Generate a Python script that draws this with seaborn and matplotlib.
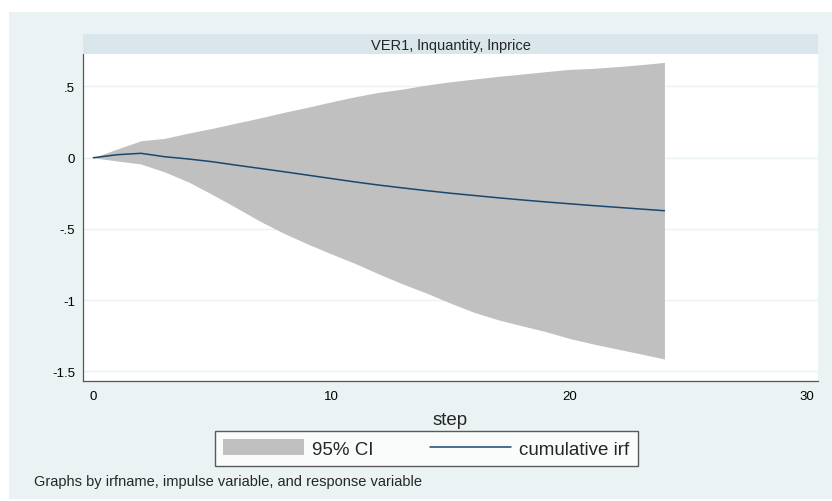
import matplotlib
matplotlib.use("Agg")
import matplotlib.pyplot as plt
import seaborn as sns
import pandas as pd
from matplotlib.patches import Rectangle, Patch
from matplotlib.lines import Line2D

sns.set_theme(style="white")
plt.rcParams['font.family'] = ['Liberation Sans', 'DejaVu Sans']

step = list(range(25))
irf = [0.0, 0.021, 0.031, 0.007, -0.009, -0.028, -0.052, -0.075, -0.098, -0.122,
       -0.146, -0.170, -0.192, -0.212, -0.231, -0.249, -0.265, -0.281, -0.296, -0.310,
       -0.323, -0.336, -0.348, -0.360, -0.372]
upper = [0.0, 0.061, 0.119, 0.136, 0.173, 0.206, 0.243, 0.279, 0.318, 0.354,
         0.392, 0.428, 0.459, 0.482, 0.510, 0.533, 0.552, 0.571, 0.587, 0.604,
         0.620, 0.627, 0.639, 0.653, 0.669]
lower = [0.0, -0.023, -0.044, -0.100, -0.170, -0.258, -0.350, -0.445, -0.530, -0.605,
         -0.675, -0.742, -0.816, -0.886, -0.950, -1.020, -1.085, -1.137, -1.179, -1.220,
         -1.268, -1.307, -1.342, -1.377, -1.413]
yticks = [0.5, 0, -0.5, -1, -1.5]
ytick_labels = [".5", "0", "-.5", "-1", "-1.5"]
xticks = [0, 10, 20, 30]
title = "VER1, lnquantity, lnprice"
xlabel = "step"
legend_labels = ["95% CI", "cumulative irf"]
note = "Graphs by irfname, impulse variable, and response variable"

df = pd.DataFrame({"step": step, "irf": irf, "upper": upper, "lower": lower})

BG = "#EAF2F3"
STRIP = "#D9E6EB"
GRAY = "#C0C0C0"
NAVY = "#1A476F"

fig = plt.figure(figsize=(8.32, 5.02), dpi=100)
fig.patch.set_facecolor("white")
# outer graph region
bg = Rectangle((9/832, 1-500/502), 1-9/832, (500-13)/502,
               transform=fig.transFigure, facecolor=BG, edgecolor="none", zorder=-10)
fig.add_artist(bg)

L, R = 83.3/832, 817.7/832
B, T = 1-381.7/502, 1-55/502
ax = fig.add_axes([L, B, R-L, T-B])
ax.set_facecolor("white")

ax.fill_between(df["step"], df["lower"], df["upper"], color=GRAY, linewidth=0, zorder=2)
sns.lineplot(data=df, x="step", y="irf", ax=ax, color=NAVY, linewidth=1.1, zorder=3)

ax.set_xlim(-0.42, 30.44)
ax.set_ylim(-1.565, 0.728)
ax.set_yticks(yticks)
ax.set_yticklabels(ytick_labels)
ax.set_xticks(xticks)
ax.set_xticklabels([str(v) for v in xticks])
for y in yticks:
    ax.axhline(y, color=BG, linewidth=1.0, zorder=1)
ax.tick_params(axis="both", direction="out", length=4, width=0.8, color="#555555",
               labelsize=9.5, labelcolor="black")
ax.tick_params(axis="y", pad=2)
ax.tick_params(axis="x", pad=3)
for s in ["top", "right"]:
    ax.spines[s].set_visible(False)
for s in ["left", "bottom"]:
    ax.spines[s].set_color("#555555")
    ax.spines[s].set_linewidth(0.9)
ax.set_xlabel(xlabel, fontsize=13.5, labelpad=6)
ax.set_ylabel("")

# strip title
sax = fig.add_axes([L, T, R-L, 20/502])
sax.set_facecolor(STRIP)
sax.set_xticks([]); sax.set_yticks([])
for s in sax.spines.values():
    s.set_visible(False)
sax.text(0.5, 0.45, title, ha="center", va="center", fontsize=10.5, transform=sax.transAxes)

handles = [Patch(facecolor=GRAY, edgecolor="none"),
           Line2D([0], [0], color=NAVY, linewidth=1.1)]
leg = fig.legend(handles, legend_labels, loc="center", ncol=2,
                 bbox_to_anchor=(426.5/832, 1-449.5/502), fontsize=13.5,
                 frameon=True, fancybox=False, handlelength=4.3, handleheight=0.9,
                 columnspacing=3.0, handletextpad=0.45, borderpad=0.45)
leg.get_frame().set_edgecolor("#333333")
leg.get_frame().set_linewidth(1.0)
leg.get_frame().set_facecolor("white")

fig.text(34/832, 1-482/502, note, fontsize=10.5, ha="left", va="center")

fig.savefig("out.png", dpi=100)
